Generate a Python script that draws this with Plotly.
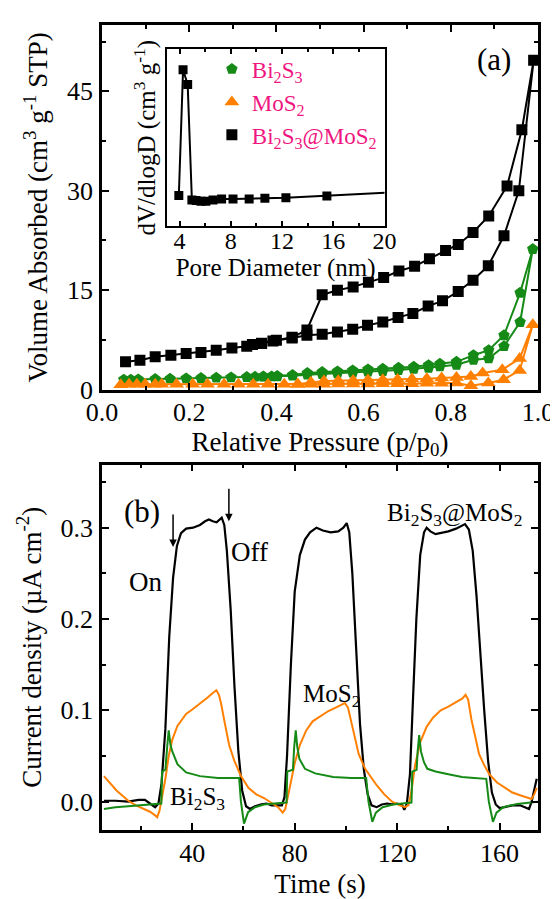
import plotly.graph_objects as go

# ---------------- Panel (a): N2 adsorption/desorption isotherms ----------------
p_bsm_ads = [0.054, 0.087, 0.122, 0.158, 0.193, 0.227, 0.262, 0.298, 0.332, 0.366, 0.392,
             0.436, 0.470, 0.505, 0.540, 0.575, 0.609, 0.644, 0.679, 0.713, 0.748, 0.781,
             0.817, 0.851, 0.886, 0.922, 0.956, 0.990]
v_bsm_ads = [4.2, 4.45, 4.95, 5.2, 5.45, 5.6, 5.95, 6.3, 6.55, 6.95, 7.35,
             7.8, 8.2, 8.35, 8.7, 9.1, 9.7, 10.2, 10.9, 11.5, 12.6, 13.4,
             14.8, 16.5, 18.7, 23.2, 30.0, 49.7]
p_bsm_des = [0.963, 0.929, 0.887, 0.851, 0.817, 0.788, 0.751, 0.717, 0.681, 0.646, 0.611,
             0.576, 0.540, 0.505, 0.470, 0.436, 0.400, 0.366, 0.345]
v_bsm_des = [39.2, 30.7, 26.2, 23.7, 21.9, 21.0, 19.75, 18.6, 17.9, 16.9, 16.2,
             15.5, 15.0, 14.3, 9.0, 7.9, 7.45, 7.0, 6.8]

p_bs_ads = [0.050, 0.066, 0.083, 0.122, 0.156, 0.193, 0.227, 0.262, 0.296, 0.332, 0.351,
            0.370, 0.389, 0.402, 0.437, 0.471, 0.505, 0.540, 0.575, 0.610, 0.644, 0.680,
            0.715, 0.749, 0.775, 0.813, 0.852, 0.887, 0.922, 0.959, 0.988]
v_bs_ads = [1.5, 1.5, 1.55, 1.6, 1.65, 1.7, 1.75, 1.8, 1.85, 1.9, 1.95,
            1.95, 2.0, 2.0, 2.1, 2.25, 2.35, 2.45, 2.55, 2.7, 2.8, 2.95,
            3.15, 3.3, 3.5, 3.75, 4.5, 4.7, 6.55, 10.2, 21.2]
p_bs_des = [0.959, 0.922, 0.887, 0.852, 0.813, 0.775, 0.749, 0.715, 0.680, 0.644, 0.610,
            0.575, 0.540, 0.505, 0.471, 0.437, 0.402, 0.370]
v_bs_des = [14.6, 8.2, 5.95, 5.2, 4.2, 3.9, 3.7, 3.45, 3.3, 3.15, 3.05,
            2.9, 2.75, 2.65, 2.5, 2.2, 2.05, 2.0]

p_ms_ads = [0.043, 0.062, 0.080, 0.099, 0.122, 0.137, 0.171, 0.208, 0.242, 0.280, 0.313,
            0.347, 0.381, 0.418, 0.449, 0.479, 0.509, 0.542, 0.576, 0.610, 0.644, 0.678,
            0.711, 0.745, 0.779, 0.813, 0.846, 0.886, 0.921, 0.958, 0.988]
v_ms_ads = [0.75, 0.8, 0.8, 0.8, 0.8, 0.8, 0.8, 0.8, 0.8, 0.8, 0.8,
            0.8, 0.8, 0.8, 0.8, 0.8, 0.8, 0.85, 0.85, 0.85, 0.9, 0.9,
            0.9, 0.95, 0.95, 1.0, 0.6, 1.0, 1.5, 2.9, 9.8]
p_ms_des = [0.958, 0.918, 0.873, 0.846, 0.813, 0.779, 0.745, 0.711, 0.678, 0.644, 0.610,
            0.576, 0.542, 0.509, 0.479, 0.449]
v_ms_des = [4.7, 3.0, 2.5, 2.0, 1.85, 1.75, 1.65, 1.6, 1.55, 1.5, 1.45,
            1.4, 1.35, 1.3, 1.1, 0.8]

# Inset: pore size distribution (arbitrary units)
pore_d = [3.94, 4.27, 4.63, 4.96, 5.29, 5.67, 6.05, 6.61, 7.28, 8.17, 9.43, 10.66, 12.3, 15.5, 22.0]
pore_v = [0.172, 0.885, 0.801, 0.147, 0.144, 0.14, 0.14, 0.147, 0.153, 0.153, 0.153, 0.157, 0.16, 0.17, 0.195]

# ---------------- Panel (b): photocurrent response ----------------
t_bsm = [5.5, 10, 15, 19, 21.5, 24, 25.5, 26.8, 28, 29.5, 31, 32.5, 34, 35.6, 37.6, 40.3, 43, 45,
         46.5, 48, 49.5, 51.5, 52.5, 53.5, 55, 56.5, 58, 59.5, 61, 62.5, 64.5, 67, 69, 71, 73,
         75, 76, 77, 78.5, 80, 82, 84, 86, 88.5, 91, 94, 97, 99, 100.3, 101.3, 102.5, 104,
         105.5, 107, 108.5, 110, 112, 114, 116, 118, 120, 122, 122.8, 123.8, 125, 126.3,
         127.5, 129, 130.5, 131.5, 133, 135, 137, 140, 143, 145, 146.5, 148, 149.5, 151,
         152.5, 154, 155.5, 157, 158.5, 160, 162, 165, 168, 170, 171.5, 172.5, 173.5, 174.5]
j_bsm = [0.001, 0.001, 0.0, 0.002, 0.002, -0.003, -0.006, -0.002, 0.02, 0.08, 0.18, 0.245, 0.28,
         0.294, 0.299, 0.300, 0.303, 0.307, 0.309, 0.307, 0.306, 0.311, 0.303, 0.275, 0.21,
         0.125, 0.055, 0.012, -0.005, -0.008, -0.005, -0.003, -0.002, -0.004, -0.004, -0.004,
         0.005, 0.05, 0.15, 0.23, 0.27, 0.287, 0.295, 0.300, 0.297, 0.295, 0.296, 0.300, 0.305,
         0.295, 0.25, 0.16, 0.085, 0.035, 0.008, -0.004, -0.006, -0.003, -0.002, -0.003,
         -0.002, -0.004, -0.009, -0.002, 0.03, 0.12, 0.2, 0.27, 0.295, 0.300, 0.296, 0.293,
         0.294, 0.296, 0.299, 0.302, 0.304, 0.298, 0.275, 0.225, 0.16, 0.1, 0.045, 0.01,
         -0.003, -0.007, -0.006, -0.004, -0.004, -0.006, -0.008, 0.0, 0.012, 0.025]

t_ms = [5.5, 8, 10.5, 13, 15, 18, 21, 23.5, 25.5, 26.3, 27.2, 28.2, 29.5, 30.8, 32.2, 34.2,
        37.6, 40, 42, 44, 46, 48, 49.4, 50.4, 51.2, 52.7, 54.4, 56.4, 59, 62, 65, 68, 71,
        73.5, 75.3, 76.3, 77.3, 78.5, 80, 82, 84.5, 87, 90, 93, 96, 98.5, 99.6, 100.8, 102,
        103.5, 105, 107.5, 110, 112, 115, 118, 121, 123, 124.4, 125.5, 127, 129, 131.5, 134,
        137, 140, 143, 145.5, 146.7, 147.7, 149, 150.5, 152, 154, 156, 159, 162, 165, 168,
        171, 172.5, 173.5, 174.5]
j_ms = [0.028, 0.02, 0.012, 0.006, 0.001, -0.004, -0.008, -0.011, -0.015, -0.017, -0.01,
        0.005, 0.025, 0.05, 0.068, 0.083, 0.096, 0.101, 0.105, 0.11, 0.114, 0.119, 0.122,
        0.117, 0.108, 0.086, 0.062, 0.045, 0.028, 0.015, 0.008, 0.004, -0.002, -0.006,
        -0.012, -0.008, 0.005, 0.022, 0.042, 0.062, 0.078, 0.088, 0.094, 0.099, 0.103,
        0.106, 0.108, 0.103, 0.088, 0.068, 0.052, 0.036, 0.026, 0.018, 0.008, 0.0, -0.004,
        -0.006, -0.004, 0.01, 0.04, 0.065, 0.082, 0.092, 0.1, 0.104, 0.109, 0.113, 0.117,
        0.112, 0.09, 0.07, 0.052, 0.04, 0.03, 0.021, 0.015, 0.01, 0.007, 0.004, 0.003,
        0.008, 0.015]

t_bs = [5.5, 10, 15, 20, 25, 27.9, 28.2, 29.5, 30.2, 30.8, 31.5, 32.2, 34.2, 37.6, 43, 50,
        58.3, 59.0, 60.2, 61.8, 64.5, 68, 72, 76.8, 77.1, 79.3, 79.8, 80.4, 81, 81.8, 84, 88,
        95, 102, 107.9, 108.8, 110.3, 111.7, 114.3, 118.4, 122, 125.6, 125.9, 127.6, 128,
        128.6, 129.3, 130.5, 131.8, 135, 140, 145.3, 150, 154.8, 155.8, 157.4, 158.8, 161.4,
        166.8, 174.9]
j_bs = [-0.008, -0.006, -0.005, -0.004, -0.003, -0.002, 0.033, 0.035, 0.06, 0.078, 0.062,
        0.055, 0.041, 0.032, 0.028, 0.026, 0.026, 0.0, -0.024, -0.0115, -0.006, -0.003,
        -0.002, -0.001, 0.033, 0.035, 0.06, 0.078, 0.06, 0.047, 0.036, 0.031, 0.027, 0.026,
        0.026, 0.0, -0.022, -0.012, -0.006, -0.003, -0.002, -0.001, 0.033, 0.035, 0.055,
        0.073, 0.055, 0.043, 0.036, 0.033, 0.03, 0.027, 0.026, 0.025, 0.0, -0.022, -0.012,
        -0.006, -0.0025, 0.0]

BLACK = "#000000"
GREEN = "#168A16"
ORANGE = "#FF8000"
PINK = "#F0167F"
FONT = "Liberation Serif, Times New Roman, serif"

fig = go.Figure()

# isotherm loops (lines) and markers
series = [
    ("Bi<sub>2</sub>S<sub>3</sub>", p_bs_ads, v_bs_ads, p_bs_des, v_bs_des, GREEN, "pentagon", 12),
    ("MoS<sub>2</sub>", p_ms_ads, v_ms_ads, p_ms_des, v_ms_des, ORANGE, "triangle-up", 13),
    ("Bi<sub>2</sub>S<sub>3</sub>@MoS<sub>2</sub>", p_bsm_ads, v_bsm_ads, p_bsm_des, v_bsm_des, BLACK, "square", 11),
]
for i, (name, pa, va, pd, vd, col, sym, sz) in enumerate(series):
    xs = pa + pd
    ys = va + vd
    fig.add_trace(go.Scatter(x=xs, y=ys, mode="lines", line=dict(color=col, width=2),
                             showlegend=False, xaxis="x", yaxis="y", hoverinfo="skip"))
    fig.add_trace(go.Scatter(x=xs, y=ys, mode="markers", name=name, legendgroup=f"g{i}",
                             marker=dict(symbol=sym, size=sz, color=col, line=dict(width=0)),
                             xaxis="x", yaxis="y"))

# inset
fig.add_trace(go.Scatter(x=pore_d, y=pore_v, mode="lines+markers",
                         line=dict(color=BLACK, width=2),
                         marker=dict(symbol="square", size=9, color=BLACK),
                         showlegend=False, xaxis="x3", yaxis="y3"))

# photocurrent
fig.add_trace(go.Scatter(x=t_bsm, y=j_bsm, mode="lines", line=dict(color=BLACK, width=2.2),
                         showlegend=False, xaxis="x2", yaxis="y2"))
fig.add_trace(go.Scatter(x=t_ms, y=j_ms, mode="lines", line=dict(color=ORANGE, width=2),
                         showlegend=False, xaxis="x2", yaxis="y2"))
fig.add_trace(go.Scatter(x=t_bs, y=j_bs, mode="lines", line=dict(color=GREEN, width=2),
                         showlegend=False, xaxis="x2", yaxis="y2"))

tickfont = dict(family=FONT, size=26, color="black")
titlefont = dict(family=FONT, size=27, color="black")

def main_axis(**kw):
    d = dict(showline=True, linecolor="black", linewidth=2.5, mirror="allticks",
             ticks="inside", ticklen=7, tickwidth=2, tickcolor="black",
             showgrid=False, zeroline=False, tickfont=tickfont, ticklabelstandoff=1)
    d.update(kw)
    return d

fig.update_layout(
    width=558, height=899,
    margin=dict(l=94, r=20, t=17, b=66),
    paper_bgcolor="white", plot_bgcolor="white",
    font=dict(family=FONT, color="black"),
    xaxis=main_axis(domain=[0, 1], anchor="y", range=[0, 1], dtick=0.2, tick0=0,
                    tickformat=".1f", ticklabelstandoff=-3,
                    minor=dict(dtick=0.1, ticklen=4, tickwidth=2, ticks="inside", tickcolor="black"),
                    title=dict(text="Relative Pressure (p/p<sub>0</sub>)", font=titlefont, standoff=0)),
    yaxis=main_axis(domain=[0.547, 1], anchor="x", range=[0, 55], dtick=15, tick0=0,
                    minor=dict(dtick=7.5, ticklen=4, tickwidth=2, ticks="inside", tickcolor="black"),
                    title=dict(text="Volume Absorbed (cm<sup>3</sup> g<sup>-1</sup> STP)",
                               font=titlefont, standoff=12)),
    xaxis2=main_axis(domain=[0, 1], anchor="y2", range=[4.75, 175], dtick=40, tick0=0,
                     ticklabelstandoff=-2,
                     minor=dict(dtick=20, ticklen=4, tickwidth=2, ticks="inside", tickcolor="black"),
                     title=dict(text="Time (s)", font=titlefont, standoff=8)),
    yaxis2=main_axis(domain=[0, 0.4538], anchor="x2", range=[-0.031, 0.369], dtick=0.1, tick0=0,
                     tickformat=".1f",
                     minor=dict(dtick=0.05, ticklen=4, tickwidth=2, ticks="inside", tickcolor="black"),
                     title=dict(text="Current density (µA cm<sup>-2</sup>)", font=titlefont, standoff=12)),
    xaxis3=dict(domain=[0.1486, 0.648], anchor="y3", range=[3.0, 20], dtick=4, tick0=0,
                showline=True, linecolor="black", linewidth=2, mirror="allticks",
                ticks="inside", ticklen=5, tickwidth=1.5, tickcolor="black",
                minor=dict(dtick=2, ticklen=3, tickwidth=1.5, ticks="inside", tickcolor="black"),
                showgrid=False, zeroline=False, ticklabelstandoff=-8,
                tickfont=dict(family=FONT, size=24, color="black"),
                title=dict(text="Pore Diameter (nm)", font=dict(family=FONT, size=25, color="black"),
                           standoff=0)),
    yaxis3=dict(domain=[0.7504, 0.9697], anchor="x3", range=[0, 1],
                showline=True, linecolor="black", linewidth=2, mirror=True,
                ticks="", showticklabels=False, showgrid=False, zeroline=False,
                title=dict(text="dV/dlogD (cm<sup>3</sup> g<sup>-1</sup>)",
                           font=dict(family=FONT, size=25, color="black"), standoff=2)),
    legend=dict(x=0.252, y=0.972, xanchor="left", yanchor="top",
                bgcolor="rgba(0,0,0,0)", borderwidth=0,
                font=dict(family=FONT, size=23, color=PINK),
                tracegroupgap=0, itemsizing="trace"),
    showlegend=True,
)

annotations = [
    dict(text="(a)", x=0.8986, y=49.85, xref="x", yref="y", showarrow=False,
         font=dict(family=FONT, size=31, color="black")),
    dict(text="(b)", x=20.5, y=0.318, xref="x2", yref="y2", showarrow=False,
         font=dict(family=FONT, size=31, color="black")),
    dict(text="On", x=21.8, y=0.241, xref="x2", yref="y2", showarrow=False,
         font=dict(family=FONT, size=27, color="black")),
    dict(text="Off", x=62.5, y=0.273, xref="x2", yref="y2", showarrow=False,
         font=dict(family=FONT, size=27, color="black")),
    dict(text="Bi<sub>2</sub>S<sub>3</sub>@MoS<sub>2</sub>", x=142.4, y=0.314, xref="x2", yref="y2",
         showarrow=False, font=dict(family=FONT, size=25, color="black")),
    dict(text="MoS<sub>2</sub>", x=94.4, y=0.116, xref="x2", yref="y2",
         showarrow=False, font=dict(family=FONT, size=25, color="black")),
    dict(text="Bi<sub>2</sub>S<sub>3</sub>", x=41.9, y=0.004, xref="x2", yref="y2",
         showarrow=False, font=dict(family=FONT, size=25, color="black")),
    dict(text="", x=32.5, y=0.279, xref="x2", yref="y2", showarrow=True,
         ax=0, ay=-34, arrowhead=2, arrowsize=1, arrowwidth=1.5, arrowcolor="black"),
    dict(text="", x=54.3, y=0.307, xref="x2", yref="y2", showarrow=True,
         ax=0, ay=-34, arrowhead=2, arrowsize=1, arrowwidth=1.5, arrowcolor="black"),
]
fig.update_layout(annotations=annotations)

fig.write_html("out.html")
